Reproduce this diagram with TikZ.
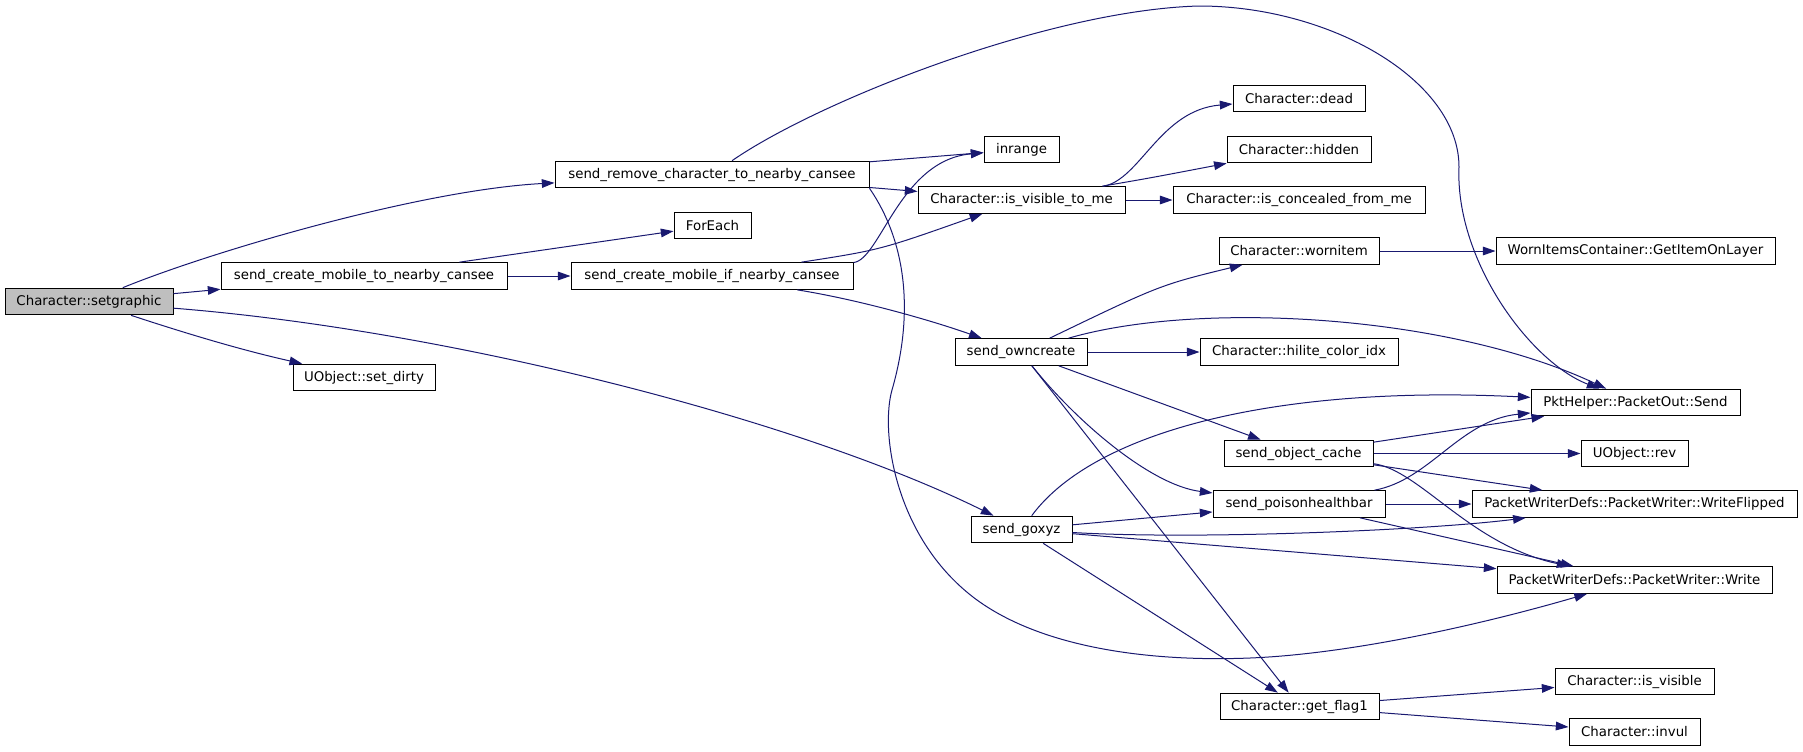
\documentclass[tikz,border=0pt]{standalone}
\usepackage{fontspec}
\setmainfont{DejaVu Sans}
\usetikzlibrary{arrows.meta}
\definecolor{edgeblue}{RGB}{25,25,112}
\definecolor{rootgray}{RGB}{191,191,191}

\begin{document}
\begin{tikzpicture}[x = 0.75pt, y = -0.75pt,
  fn/.style = {draw, line width = 0.75pt, minimum height = 20pt, inner sep = 0pt,
    font = \fontsize{10}{12}\selectfont},
  call/.style = {draw = edgeblue, line width = 0.75pt, -{Triangle[length = 9.5pt, width = 6.5pt]}}]
\useasboundingbox (0, 0) rectangle (1803, 751);
%\draw[very thin, color = gray](0, 0) grid[step = 50] (1803, 751);
\node (setgraphic) at (89, 301.5) [fn, fill = rootgray, minimum width = 126pt] {Character::setgraphic};
\node (sendremove) at (712, 174.5) [fn, minimum width = 235.5pt] {send\_remove\_character\_to\_nearby\_cansee};
\node (sendmobto) at (364, 276) [fn, minimum width = 214.5pt] {send\_create\_mobile\_to\_nearby\_cansee};
\node (setdirty) at (364, 377.5) [fn, minimum width = 106.5pt] {UObject::set\_dirty};
\node (foreach) at (712.5, 225.5) [fn, minimum width = 57.75pt] {ForEach};
\node (sendmobif) at (712, 276) [fn, minimum width = 211.5pt] {send\_create\_mobile\_if\_nearby\_cansee};
\node (inrange) at (1021.5, 149.5) [fn, minimum width = 56.25pt] {inrange};
\node (isvisibletome) at (1021.5, 200) [fn, minimum width = 155.25pt] {Character::is\_visible\_to\_me};
\node (owncreate) at (1021, 352) [fn, minimum width = 99pt] {send\_owncreate};
\node (goxyz) at (1021.5, 529.5) [fn, minimum width = 75.75pt] {send\_goxyz};
\node (dead) at (1299, 98.5) [fn, minimum width = 99pt] {Character::dead};
\node (hidden) at (1299, 149.5) [fn, minimum width = 108pt] {Character::hidden};
\node (concealed) at (1299, 200) [fn, minimum width = 189pt] {Character::is\_concealed\_from\_me};
\node (wornitem) at (1299, 251) [fn, minimum width = 120pt] {Character::wornitem};
\node (hilite) at (1299, 352) [fn, minimum width = 148.5pt] {Character::hilite\_color\_idx};
\node (objcache) at (1298.5, 453.5) [fn, minimum width = 111.75pt] {send\_object\_cache};
\node (poison) at (1299, 504) [fn, minimum width = 129pt] {send\_poisonhealthbar};
\node (getflag) at (1299.5, 706.5) [fn, minimum width = 119.25pt] {Character::get\_flag1};
\node (getitem) at (1635.5, 251) [fn, minimum width = 209.25pt] {WornItemsContainer::GetItemOnLayer};
\node (pktsend) at (1635.5, 402.5) [fn, minimum width = 156.75pt] {PktHelper::PacketOut::Send};
\node (rev) at (1634.5, 453.5) [fn, minimum width = 80.25pt] {UObject::rev};
\node (writeflipped) at (1634.5, 504) [fn, minimum width = 243.75pt] {PacketWriterDefs::PacketWriter::WriteFlipped};
\node (pwrite) at (1634.5, 580) [fn, minimum width = 206.25pt] {PacketWriterDefs::PacketWriter::Write};
\node (isvisible) at (1634.5, 681.5) [fn, minimum width = 119.25pt] {Character::is\_visible};
\node (invul) at (1634.5, 732) [fn, minimum width = 98.25pt] {Character::invul};

\draw[call] (setgraphic) .. controls (210, 252) and (420, 190) .. (sendremove);
\draw[call] (setgraphic) -- (sendmobto);
\draw[call] (setgraphic) .. controls (450, 330) and (800, 420) .. (goxyz);
\draw[call] (setgraphic) .. controls (200, 338) and (250, 352) .. (setdirty);
\draw[call] (sendremove) -- (inrange);
\draw[call] (sendremove) -- (isvisibletome);
\draw[call] (sendremove) .. controls (820, 100) and (1050, 10) .. (1199, 6)
  .. controls (1330, 6) and (1459, 80) .. (1459, 167)
  .. controls (1455, 260) and (1530, 362) .. (pktsend);
\draw[call] (sendremove.-5.5) .. controls (905, 240) and (915, 310) .. (892, 390)
  .. controls (880, 432) and (895, 540) .. (977, 600)
  .. controls (1043, 648) and (1150, 662) .. (1250, 658)
  .. controls (1350, 654) and (1480, 625) .. (pwrite);
\draw[call] (sendmobto) -- (foreach);
\draw[call] (sendmobto) -- (sendmobif);
\draw[call] (sendmobif) .. controls (880, 260) and (900, 160) .. (inrange);
\draw[call] (sendmobif) .. controls (880, 250) .. (isvisibletome);
\draw[call] (sendmobif) .. controls (860, 300) and (930, 320) .. (owncreate);
\draw[call] (isvisibletome) .. controls (1140, 180) and (1160, 110) .. (dead);
\draw[call] (isvisibletome) .. controls (1150, 178) .. (hidden);
\draw[call] (isvisibletome) -- (concealed);
\draw[call] (owncreate) .. controls (1160, 285) .. (wornitem);
\draw[call] (owncreate) .. controls (1200, 300) and (1450, 315) .. (pktsend);
\draw[call] (owncreate) -- (hilite);
\draw[call] (owncreate) -- (objcache);
\draw[call] (owncreate) .. controls (1075, 420) and (1150, 485) .. (poison);
\draw[call] (owncreate) -- (getflag);
\draw[call] (goxyz) .. controls (1095, 430) and (1280, 385) .. (pktsend);
\draw[call] (goxyz) -- (poison);
\draw[call] (goxyz) .. controls (1200, 540) and (1430, 530) .. (writeflipped);
\draw[call] (goxyz) -- (pwrite);
\draw[call] (goxyz) -- (getflag);
\draw[call] (objcache) -- (pktsend);
\draw[call] (objcache) -- (rev);
\draw[call] (objcache) -- (writeflipped);
\draw[call] (objcache) .. controls (1420, 470) and (1470, 545) .. (pwrite);
\draw[call] (poison) .. controls (1430, 480) and (1460, 420) .. (pktsend);
\draw[call] (poison) -- (writeflipped);
\draw[call] (poison) -- (pwrite);
\draw[call] (getflag) -- (isvisible);
\draw[call] (getflag) -- (invul);
\draw[call] (wornitem) -- (getitem);
\end{tikzpicture}
\end{document}
